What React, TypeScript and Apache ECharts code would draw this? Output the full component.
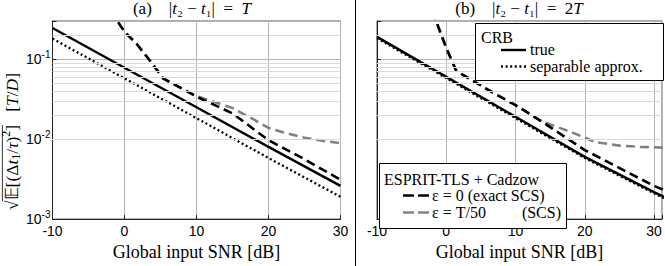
import React, { useEffect, useRef } from "react";
import * as echarts from "echarts";

// ---------- data ----------
const X_TICKS = [-10, 0, 10, 20, 30];
const Y_MINOR = [0.002, 0.003, 0.004, 0.005, 0.006, 0.007, 0.008, 0.009, 0.02, 0.03, 0.04, 0.05, 0.06, 0.07, 0.08, 0.09, 0.2];

// (a) |t2 - t1| = T
const A_CRB_TRUE = [[-10, 0.245], [0, 0.078], [10, 0.025], [20, 0.008], [30, 0.0026]];
const A_CRB_SEP = [[-10, 0.181], [0, 0.0575], [10, 0.0183], [20, 0.0058], [30, 0.0019]];
const A_ESPRIT_EXACT = [[-2, 0.4], [-1, 0.3], [0, 0.22], [1.7, 0.155], [3.6, 0.094], [5.4, 0.057], [6.8, 0.049], [10, 0.034], [15, 0.021], [20, 0.0097], [25, 0.0056], [30, 0.0031]];
const A_ESPRIT_SCS = [[-2, 0.4], [-1, 0.3], [0, 0.22], [1.7, 0.155], [3.6, 0.094], [5.4, 0.057], [6.8, 0.049], [10, 0.0345], [12, 0.03], [15, 0.0245], [18, 0.0175], [20, 0.0138], [22, 0.0122], [25, 0.0104], [28, 0.0094], [30, 0.0089]];

// (b) |t2 - t1| = 2T
const B_CRB_TRUE = [[-10, 0.19], [0, 0.06], [10, 0.019], [20, 0.006], [30, 0.00217], [32, 0.0018]];
const B_CRB_SEP = [[-10, 0.183], [0, 0.058], [10, 0.0183], [20, 0.0058], [30, 0.0021], [32, 0.00173]];
const B_ESPRIT_EXACT = [[-2, 0.4], [-1.47, 0.3], [0, 0.138], [1.4, 0.0727], [2.1, 0.066], [4.4, 0.0503], [6.7, 0.0383], [10, 0.0266], [13.7, 0.0168], [20, 0.0073], [30, 0.0026], [32, 0.0022]];
const B_ESPRIT_SCS = [[-2, 0.4], [-1.47, 0.3], [0, 0.138], [1.4, 0.0727], [2.1, 0.066], [4.4, 0.0503], [6.7, 0.0383], [10, 0.0266], [13.7, 0.0168], [16, 0.0142], [18.5, 0.0118], [21.5, 0.0092], [25, 0.0083], [28, 0.008], [32, 0.0078]];

// ---------- styling ----------
const SERIF = "Liberation Serif";
const SANS = "Liberation Sans";
const MAJOR = "#b4b4b4";
const MINOR = "#dadada";

function measure(text: string, font: string) {
  const c = document.createElement("canvas").getContext("2d")!;
  c.font = font;
  return c.measureText(text).width;
}

function yNameGroup() {
  const base = 17.5;
  const segs = [
    { t: "\u221A", it: false, size: base, dy: 0 },
    { t: "\uD835\uDD3C", it: false, size: base, dy: 0 },
    { t: "[(\u0394", it: false, size: base, dy: 0 },
    { t: "t", it: true, size: base, dy: 0 },
    { t: "1", it: false, size: base * 0.68, dy: base * 0.25 },
    { t: "/", it: false, size: base, dy: 0 },
    { t: "\u03C4", it: true, size: base, dy: 0 },
    { t: ")", it: false, size: base, dy: 0 },
    { t: "2", it: false, size: base * 0.68, dy: -base * 0.32 },
    { t: "]", it: false, size: base, dy: 0 },
    { t: "   [", it: false, size: base, dy: 0 },
    { t: "T", it: true, size: base, dy: 0 },
    { t: "/", it: false, size: base, dy: 0 },
    { t: "D", it: true, size: base, dy: 0 },
    { t: "]", it: false, size: base, dy: 0 },
  ];
  const widths = segs.map((s) => measure(s.t, `${s.it ? "italic " : ""}${s.size}px "${SERIF}"`));
  const W = widths.reduce((a, b) => a + b, 0);
  let x = -W / 2;
  const children: any[] = [];
  let olStart = 0, olEnd = 0;
  segs.forEach((s, i) => {
    children.push({
      type: "text",
      x,
      y: s.dy,
      style: {
        text: s.t,
        fontFamily: SERIF,
        fontSize: s.size,
        fontStyle: s.it ? "italic" : "normal",
        fill: "#000",
        align: "left",
        verticalAlign: "middle",
      },
    });
    if (i === 0) olStart = x + widths[i] - 1;
    x += widths[i];
    if (i === 9) olEnd = x;
  });
  children.push({
    type: "line",
    shape: { x1: olStart, y1: -base * 0.55, x2: olEnd, y2: -base * 0.55 },
    style: { stroke: "#000", lineWidth: 0.8 },
  });
  return { type: "group", x: 12, y: 141.5, rotation: Math.PI / 2, children, z: 100 };
}

function titleText(x: number, label: string, rhs: string) {
  return {
    type: "text",
    x,
    y: 8,
    z: 100,
    style: {
      text: `{n|${label}    |}{i|t}{n|\u2082 \u2212 }{i|t}{n|\u2081|  =  }{n|${rhs}}{i|T}`,
      align: "center",
      verticalAlign: "middle",
      rich: {
        n: { fontFamily: SERIF, fontSize: 17, fill: "#000" },
        i: { fontFamily: SERIF, fontSize: 17, fontStyle: "italic", fill: "#000" },
      },
    },
  };
}

const T16 = (text: string, x: number, y: number, extra: any = {}) => ({
  type: "text",
  x,
  y,
  z: 101,
  style: { text, fontFamily: SERIF, fontSize: 16, fill: "#000", align: "left", verticalAlign: "middle", ...extra },
});

const L = (x1: number, x2: number, y: number, stroke: string, lineWidth: number, lineDash?: number[]) => ({
  type: "line",
  z: 101,
  shape: { x1, y1: y, x2, y2: y },
  style: { stroke, lineWidth, lineDash, lineCap: "butt" },
});

function xAxis(i: number, max: number) {
  return {
    gridIndex: i,
    type: "value",
    min: -10,
    max,
    interval: 10,
    axisLine: { show: true, lineStyle: { color: "#222", width: 1 } },
    axisTick: { show: true, inside: true, length: 4, lineStyle: { color: "#222" } },
    axisLabel: {
      margin: 5,
      fontFamily: SANS,
      fontSize: 14,
      color: "#000",
      formatter: (v: number) => (X_TICKS.includes(v) ? String(v) : ""),
    },
    splitLine: { show: true, lineStyle: { color: MAJOR, width: 1 } },
    name: "Global input SNR [dB]",
    nameLocation: "middle",
    nameGap: 14,
    nameTextStyle: { fontFamily: SERIF, fontSize: 18, color: "#000" },
  };
}

function yAxis(i: number, showLabels: boolean) {
  return {
    gridIndex: i,
    type: "log",
    logBase: 10,
    min: 0.001,
    max: 0.3,
    axisLine: { show: true, onZero: false, lineStyle: { color: "#222", width: 1 } },
    axisTick: { show: true, inside: true, length: 4, lineStyle: { color: "#222" } },
    axisLabel: {
      show: showLabels,
      margin: 2,
      formatter: (v: number) => {
        const lg = Math.log10(v);
        const e = Math.round(lg);
        if (Math.abs(lg - e) > 1e-6) return "";
        return `{b|10}{s|${e}}`;
      },
      rich: {
        b: { fontFamily: SANS, fontSize: 14, color: "#000" },
        s: { fontFamily: SANS, fontSize: 10, color: "#000", padding: [0, 0, 10, 0] },
      },
    },
    splitLine: { show: true, lineStyle: { color: MAJOR, width: 1 } },
  };
}

function series(i: number, data: number[][], lineStyle: any) {
  return {
    type: "line",
    xAxisIndex: i,
    yAxisIndex: i,
    data,
    symbol: "none",
    showSymbol: false,
    silent: true,
    clip: true,
    z: 3,
    lineStyle,
  };
}

const S_TRUE = { color: "#000", width: 2.4, type: "solid" };
const S_SEP = { color: "#000", width: 2.3, type: [2, 2.6], cap: "butt" };
const S_EXACT = { color: "#000", width: 2.6, type: [9, 5], cap: "butt" };
const S_SCS = { color: "#808080", width: 2.6, type: [9, 5], cap: "butt" };

function minorGrid(i: number) {
  return {
    type: "line",
    xAxisIndex: i,
    yAxisIndex: i,
    data: [],
    z: 1,
    silent: true,
    markLine: {
      silent: true,
      symbol: "none",
      animation: false,
      label: { show: false },
      lineStyle: { color: MINOR, type: "solid", width: 1 },
      data: Y_MINOR.map((v) => ({ yAxis: v })),
    },
  };
}

export default function App() {
  const ref = useRef<HTMLDivElement>(null);
  useEffect(() => {
    const chart = echarts.init(ref.current!, null, { renderer: "svg" });
    chart.setOption({
      animation: false,
      backgroundColor: "#fff",
      grid: [
        { left: 52.5, top: 21, width: 288, height: 208, show: true, borderColor: "#555", borderWidth: 1, backgroundColor: "transparent" },
        { left: 377, top: 21, width: 288, height: 207.5, show: true, borderColor: "#555", borderWidth: 1, backgroundColor: "transparent" },
      ],
      xAxis: [xAxis(0, 30), xAxis(1, 31.15)],
      yAxis: [yAxis(0, true), yAxis(1, false)],
      series: [
        minorGrid(0),
        minorGrid(1),
        series(0, A_ESPRIT_SCS, S_SCS),
        series(0, A_ESPRIT_EXACT, S_EXACT),
        series(0, A_CRB_SEP, S_SEP),
        series(0, A_CRB_TRUE, S_TRUE),
        series(1, B_ESPRIT_SCS, S_SCS),
        series(1, B_ESPRIT_EXACT, S_EXACT),
        series(1, B_CRB_SEP, S_SEP),
        series(1, B_CRB_TRUE, S_TRUE),
      ],
      graphic: [
        titleText(192, "(a)", ""),
        titleText(519, "(b)", "2"),
        yNameGroup(),
        { type: "line", z: 100, shape: { x1: 355.5, y1: 0, x2: 355.5, y2: 266 }, style: { stroke: "#000", lineWidth: 1 } },
        // legend: CRB
        { type: "rect", z: 100, shape: { x: 475.5, y: 23.5, width: 188, height: 57 }, style: { fill: "#fff", stroke: "#000", lineWidth: 1 } },
        T16("CRB", 481, 37),
        L(501, 526, 50, "#000", 2.4),
        T16("true", 530, 49),
        L(501, 526, 66.5, "#000", 2.3, [2, 2.6]),
        T16("separable approx.", 530, 66),
        // legend: ESPRIT
        { type: "rect", z: 100, shape: { x: 379.5, y: 163.5, width: 187, height: 65 }, style: { fill: "#fff", stroke: "#000", lineWidth: 1 } },
        T16("ESPRIT-TLS + Cadzow", 384, 179),
        L(403, 430, 195.5, "#000", 2.6, [11, 4]),
        T16("\u03B5 = 0 (exact SCS)", 432, 195.5),
        L(403, 430, 212.5, "#808080", 2.6, [11, 4]),
        T16("\u03B5 = T/50", 432, 212.5),
        T16("(SCS)", 561, 212.5, { align: "right" }),
      ],
    });
    return () => chart.dispose();
  }, []);
  return <div ref={ref} style={{ position: "fixed", left: 0, top: 0, width: 665, height: 266, background: "#fff" }} />;
}
